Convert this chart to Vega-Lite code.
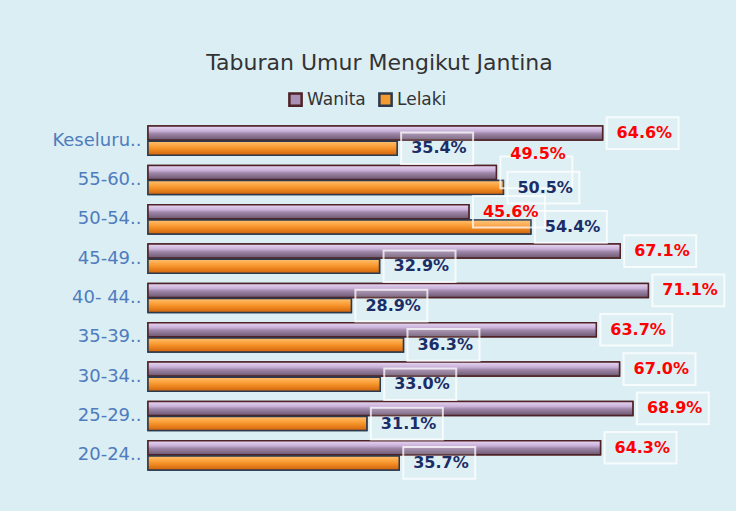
{
  "$schema": "https://vega.github.io/schema/vega-lite/v6.json",
  "autosize": {"type": "none"},
  "width": 563,
  "height": 354,
  "padding": {"left": 148, "top": 121, "right": 25, "bottom": 36},
  "background": "#dbeef4",
  "title": {"text": "Taburan Umur Mengikut Jantina", "font": "DejaVu Sans", "fontSize": 22, "fontWeight": "normal", "color": "#333333", "dx": -50, "offset": 48, "baseline": "top", "dy": 32, "anchor": "middle"},
  "config": {"view": {"stroke": null}},
  "data": {"values": [
    {"kategori": "Keseluru..", "jantina": "Wanita", "nilai": 0.646},
    {"kategori": "Keseluru..", "jantina": "Lelaki", "nilai": 0.354},
    {"kategori": "55-60..", "jantina": "Wanita", "nilai": 0.495},
    {"kategori": "55-60..", "jantina": "Lelaki", "nilai": 0.505},
    {"kategori": "50-54..", "jantina": "Wanita", "nilai": 0.456},
    {"kategori": "50-54..", "jantina": "Lelaki", "nilai": 0.544},
    {"kategori": "45-49..", "jantina": "Wanita", "nilai": 0.671},
    {"kategori": "45-49..", "jantina": "Lelaki", "nilai": 0.329},
    {"kategori": "40- 44..", "jantina": "Wanita", "nilai": 0.711},
    {"kategori": "40- 44..", "jantina": "Lelaki", "nilai": 0.289},
    {"kategori": "35-39..", "jantina": "Wanita", "nilai": 0.637},
    {"kategori": "35-39..", "jantina": "Lelaki", "nilai": 0.363},
    {"kategori": "30-34..", "jantina": "Wanita", "nilai": 0.670},
    {"kategori": "30-34..", "jantina": "Lelaki", "nilai": 0.330},
    {"kategori": "25-29..", "jantina": "Wanita", "nilai": 0.689},
    {"kategori": "25-29..", "jantina": "Lelaki", "nilai": 0.311},
    {"kategori": "20-24..", "jantina": "Wanita", "nilai": 0.643},
    {"kategori": "20-24..", "jantina": "Lelaki", "nilai": 0.357}
  ]},
  "encoding": {
    "y": {"field": "kategori", "type": "nominal",
      "sort": ["Keseluru..", "55-60..", "50-54..", "45-49..", "40- 44..", "35-39..", "30-34..", "25-29..", "20-24.."],
      "scale": {"paddingInner": 0.26, "paddingOuter": 0.13},
      "axis": {"title": null, "domain": false, "ticks": false, "labelFont": "DejaVu Sans", "labelFontSize": 18, "labelColor": "#4f7cbd", "labelPadding": 7}},
    "yOffset": {"field": "jantina", "type": "nominal", "sort": ["Wanita", "Lelaki"], "scale": {"paddingInner": 0.08}},
    "x": {"field": "nilai", "type": "quantitative", "scale": {"domain": [0, 0.8]}, "axis": null}
  },
  "layer": [
    {
      "mark": {"type": "bar", "strokeWidth": 1.5, "opacity": 1},
      "encoding": {
        "color": {"field": "jantina", "type": "nominal", "sort": ["Wanita", "Lelaki"],
          "scale": {"domain": ["Wanita", "Lelaki"], "range": ["#a990b5", "#f39a30"]},
          "legend": {"title": null, "orient": "none", "legendX": 139, "legendY": -30, "direction": "horizontal", "symbolType": "square", "symbolSize": 150, "symbolStrokeWidth": 2.5, "labelFont": "DejaVu Sans", "labelFontSize": 17, "labelColor": "#333333", "columnPadding": 8, "labelOffset": 3}},
        "stroke": {"field": "jantina", "type": "nominal",
          "scale": {"domain": ["Wanita", "Lelaki"], "range": ["#4e2226", "#2b3a4e"]}, "legend": null}
      }
    },
    {
      "transform": [{"filter": "datum.jantina == 'Wanita'"}],
      "mark": {"type": "bar", "stroke": "#4e2226", "strokeWidth": 1.5,
        "color": {"gradient": "linear", "x1": 0, "y1": 0, "x2": 0, "y2": 1,
          "stops": [{"offset": 0, "color": "#e8d8f4"}, {"offset": 0.35, "color": "#c9b1d9"}, {"offset": 0.55, "color": "#9d85a7"}, {"offset": 1, "color": "#6c5870"}]}}
    },
    {
      "transform": [{"filter": "datum.jantina == 'Lelaki'"}],
      "mark": {"type": "bar", "stroke": "#2b3a4e", "strokeWidth": 1.5,
        "color": {"gradient": "linear", "x1": 0, "y1": 0, "x2": 0, "y2": 1,
          "stops": [{"offset": 0, "color": "#ffc070"}, {"offset": 0.35, "color": "#fca23c"}, {"offset": 0.6, "color": "#f08a22"}, {"offset": 1, "color": "#cf630c"}]}}
    },
    {
      "transform": [{"filter": "!(datum.jantina == 'Wanita' && datum.kategori == '55-60..')"}],
      "mark": {"type": "point", "shape": "M-1,-0.44L1,-0.44L1,0.44L-1,0.44Z", "size": 5184, "xOffset": 40, "filled": true, "fill": "#ffffff", "fillOpacity": 0.12, "stroke": "#ffffff", "strokeOpacity": 0.75, "strokeWidth": 2, "opacity": 1}
    },
    {
      "transform": [{"filter": "datum.jantina == 'Wanita' && datum.kategori == '55-60..'"}],
      "mark": {"type": "point", "shape": "M-1,-0.44L1,-0.44L1,0.44L-1,0.44Z", "size": 5184, "xOffset": 40, "yOffset": -18, "filled": true, "fill": "#ffffff", "fillOpacity": 0.12, "stroke": "#ffffff", "strokeOpacity": 0.75, "strokeWidth": 2, "opacity": 1}
    },
    {
      "transform": [{"filter": "!(datum.jantina == 'Wanita' && datum.kategori == '55-60..')"}],
      "mark": {"type": "text", "align": "left", "baseline": "middle", "dx": 14, "font": "DejaVu Sans", "fontWeight": "bold", "fontSize": 16},
      "encoding": {
        "text": {"field": "nilai", "type": "quantitative", "format": ".1%"},
        "color": {"condition": {"test": "datum.jantina == 'Wanita'", "value": "#ff0000"}, "value": "#1b2d66"}
      }
    },
    {
      "transform": [{"filter": "datum.jantina == 'Wanita' && datum.kategori == '55-60..'"}],
      "mark": {"type": "text", "align": "left", "baseline": "middle", "dx": 14, "dy": -18, "font": "DejaVu Sans", "fontWeight": "bold", "fontSize": 16, "color": "#ff0000"},
      "encoding": {
        "text": {"field": "nilai", "type": "quantitative", "format": ".1%"}
      }
    }
  ]
}
